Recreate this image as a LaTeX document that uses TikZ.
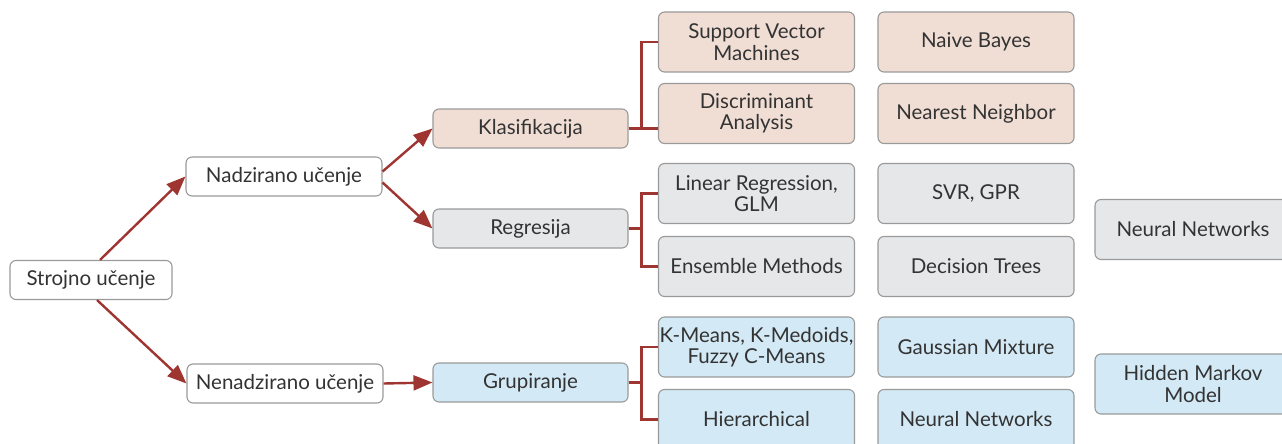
\documentclass[tikz,border=0pt]{standalone}
\usepackage{fontspec}
\setmainfont{Lato}
\usetikzlibrary{arrows.meta, positioning}
\definecolor{linkred}{HTML}{9E3531}
\definecolor{boxgray}{HTML}{9A9A9A}
\definecolor{txtgray}{HTML}{333333}
\definecolor{fillpink}{HTML}{F0DED5}
\definecolor{fillgray}{HTML}{E6E7E8}
\definecolor{fillblue}{HTML}{D3E9F5}

\begin{document}
\begin{tikzpicture}[%
    x=1pt, y=-1pt,
    font=\fontsize{20.5}{21.5}\selectfont,
    box/.style={draw=boxgray, line width=1.1pt, rounded corners=6pt,
      align=center, text=txtgray, inner sep=0pt, minimum height=39pt},
    top/.style={box, fill=white},
    mid/.style={box, minimum width=195pt},
    leaf/.style={box, minimum width=196pt, minimum height=60pt},
    link/.style={draw=linkred, line width=2.4pt,
      -{Triangle[length=19pt,width=15pt]}},
    brace/.style={draw=linkred, line width=2.2pt}
  ]
  \useasboundingbox (0,0) rectangle (1282,444);

  \node[top, minimum width=162pt] at (91,280) (root) {Strojno učenje};
  \node[top, minimum width=196pt] at (284,176.5) (nad) {Nadzirano učenje};
  \node[top, minimum width=196pt] at (285,383.5) (nenad) {Nenadzirano učenje};

  \node[mid, fill=fillpink] at (530.5,128.5) (klas) {Klasifikacija};
  \node[mid, fill=fillgray] at (530.5,228.5) (regr) {Regresija};
  \node[mid, fill=fillblue] at (530.5,382.5) (grup) {Grupiranje};

  % second column
  \node[leaf, fill=fillpink] at (756.5,42) (svm) {Support Vector\\Machines};
  \node[leaf, fill=fillpink] at (756.5,113.5) (disc) {Discriminant\\Analysis};
  \node[leaf, fill=fillgray] at (756.5,193.5) (linreg) {Linear Regression,\\GLM};
  \node[leaf, fill=fillgray] at (756.5,266.5) (ens) {Ensemble Methods};
  \node[leaf, fill=fillblue] at (756.5,347) (kmeans) {K-Means, K-Medoids,\\Fuzzy C-Means};
  \node[leaf, fill=fillblue] at (756.5,419.5) (hier) {Hierarchical};

  % third column
  \node[leaf, fill=fillpink] at (976,42) (naive) {Naive Bayes};
  \node[leaf, fill=fillpink] at (976,113.5) (nearest) {Nearest Neighbor};
  \node[leaf, fill=fillgray] at (976,193.5) (svr) {SVR, GPR};
  \node[leaf, fill=fillgray] at (976,266.5) (dtree) {Decision Trees};
  \node[leaf, fill=fillblue] at (976,347) (gauss) {Gaussian Mixture};
  \node[leaf, fill=fillblue] at (976,419.5) (nn_2) {Neural Networks};

  % fourth column
  \node[leaf, fill=fillgray] at (1193,229.5) (nn_1) {Neural Networks};
  \node[leaf, fill=fillblue] at (1193,384) (hmm) {Hidden Markov\\Model};

  \draw[link] ([xshift=9pt]root.north) -- (nad.west);
  \draw[link] ([xshift=6pt]root.south) -- (nenad.west);
  \draw[link] ([yshift=5pt]nad.east) -- (klas.west);
  \draw[link] ([yshift=-6pt]nad.east) -- (regr.west);
  \draw[link] (nenad.east) -- (grup.west);

  \draw[brace] (klas.east) -- ++(13,0) |- (svm.west);
  \draw[brace] (klas.east) -- (klas.east -| disc.west);
  \draw[brace] (regr.east) -- ++(13,0) |- (linreg.west);
  \draw[brace] (regr.east) -- ++(13,0) |- (ens.west);
  \draw[brace] (grup.east) -- ++(13,0) |- (kmeans.west);
  \draw[brace] (grup.east) -- ++(13,0) |- (hier.west);
\end{tikzpicture}
\end{document}
